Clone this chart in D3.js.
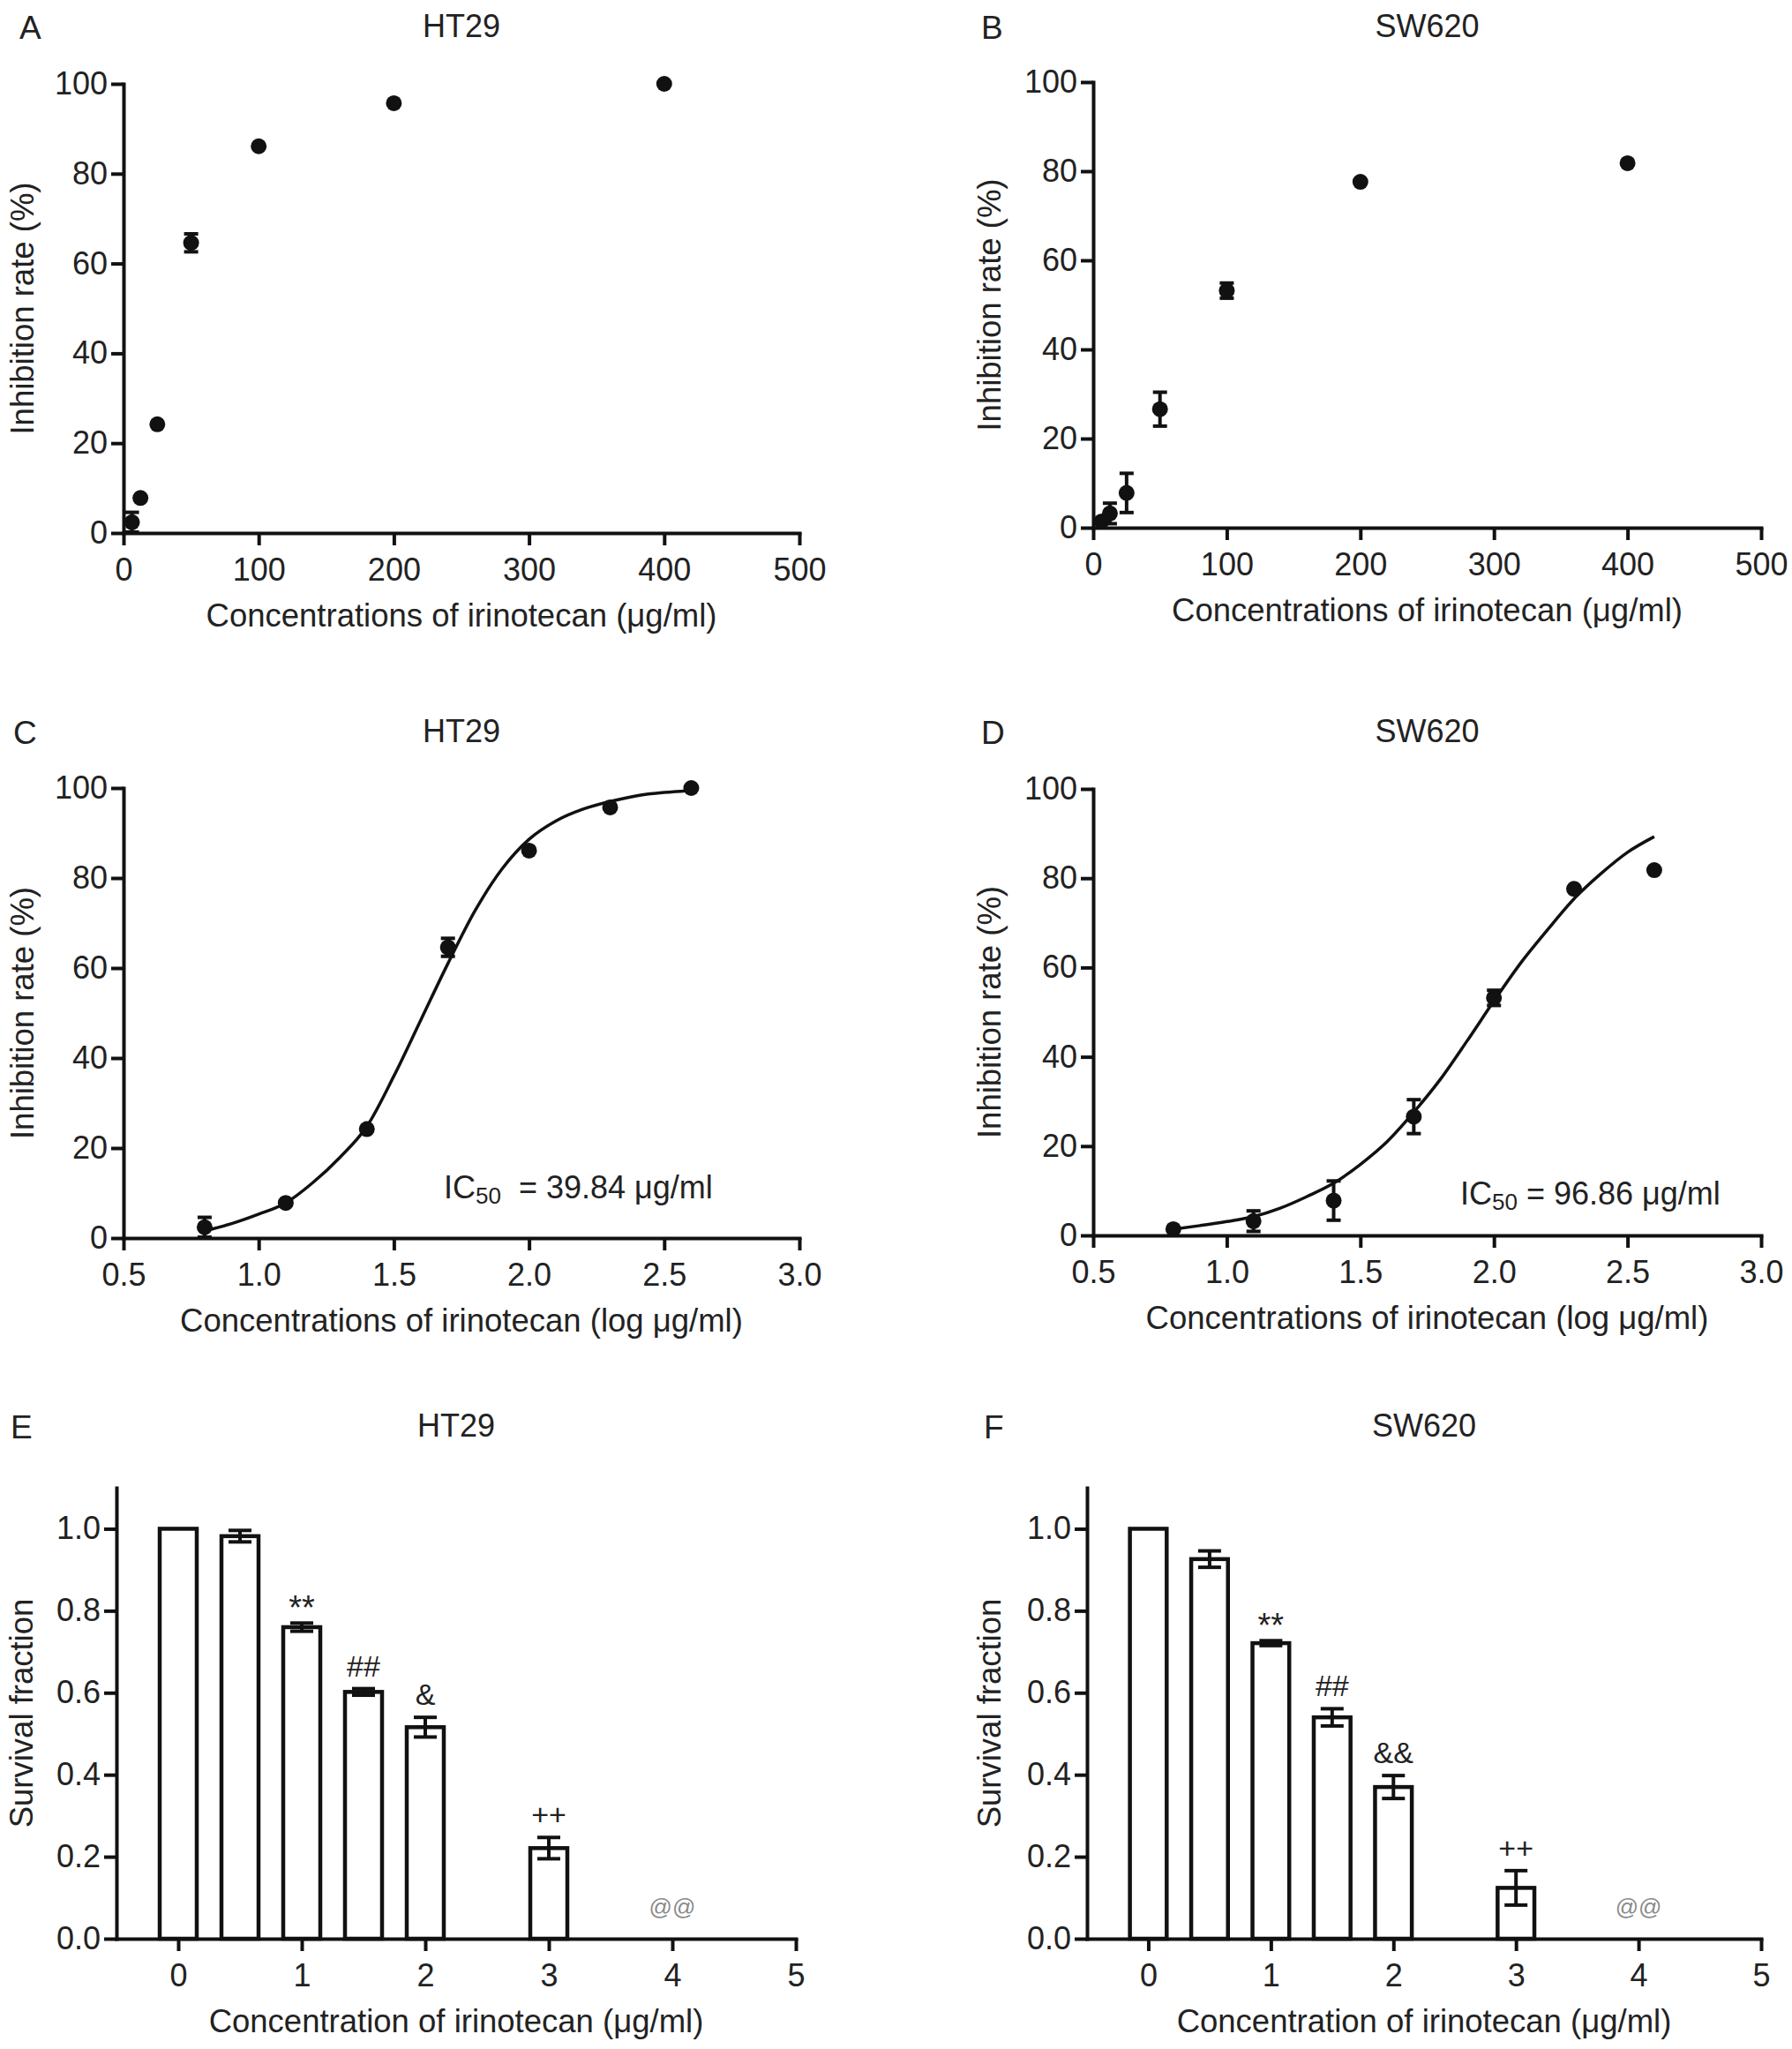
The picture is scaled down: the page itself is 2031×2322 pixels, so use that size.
<!DOCTYPE html>
<html>
<head>
<meta charset="utf-8">
<script src="https://cdn.jsdelivr.net/npm/d3@7"></script>
<style>
  body { margin: 0; background: #fff; }
  text { font-family: "Liberation Sans", Arial, sans-serif; fill: #222; }
</style>
</head>
<body>
<svg id="fig" width="2031" height="2322"></svg>
<script>
// doses used in panels A/B (µg/ml) and their log10 values used in C/D
var doses = [6.25, 12.5, 25, 50, 100, 200, 400];
var logDoses = [0.8, 1.1, 1.4, 1.7, 2.0, 2.3, 2.6];

// inhibition rate (%) and error (SD)
var ht29Inhib = [2.4, 7.8, 24.2, 64.6, 86.1, 95.7, 100];
var ht29Err = [2.2, 0, 0, 2.0, 0, 0, 0];
var sw620Inhib = [1.4, 3.2, 7.8, 26.6, 53.2, 77.6, 81.8];
var sw620Err = [0, 2.3, 4.4, 3.8, 1.7, 0, 0];

// fitted dose-response curves
var curveLogX = [0.8, 0.9, 1.0, 1.1, 1.2, 1.3, 1.4, 1.5, 1.6, 1.7, 1.8, 1.9, 2.0, 2.1, 2.2, 2.3, 2.4, 2.5, 2.6];
var ht29Curve = [1.6, 3.2, 5.3, 7.8, 12.3, 17.9, 24.8, 36, 48.5, 61, 72.7, 82, 88.6, 92.7, 95.3, 97, 98.3, 99, 99.4];
var sw620Curve = [1.4, 2.2, 3.1, 4.2, 6.1, 8.7, 11.7, 15.9, 21, 27.6, 35, 43.6, 52.5, 61, 68.4, 75.4, 81, 85.8, 89.3];

// survival fraction (E/F)
var survDoses = [0, 0.5, 1, 1.5, 2, 3, 4];
var ht29Surv = [1.0, 0.982, 0.76, 0.602, 0.516, 0.221, 0];
var ht29SurvErr = [0, 0.014, 0.01, 0.008, 0.024, 0.026, 0];
var ht29Marks = ["", "", "**", "##", "&", "++", "@@"];
var sw620Surv = [1.0, 0.926, 0.721, 0.54, 0.37, 0.124, 0];
var sw620SurvErr = [0, 0.02, 0.006, 0.021, 0.028, 0.042, 0];
var sw620Marks = ["", "", "**", "##", "&&", "++", "@@"];

// tick values
var doseTicks = [0, 100, 200, 300, 400, 500];
var logTicks = [0.5, 1.0, 1.5, 2.0, 2.5, 3.0];
var pctTicks = [0, 20, 40, 60, 80, 100];
var survXTicks = [0, 1, 2, 3, 4, 5];
var survYTicks = [0, 0.2, 0.4, 0.6, 0.8, 1.0];

var svg = d3.select("#fig");
var INK = "#111";

function styleAxis(g) {
  g.attr("font-size", 36).attr("font-family", null);
  g.select(".domain").attr("stroke", INK).attr("stroke-width", 4).attr("stroke-linecap", "square");
  g.selectAll(".tick line").attr("stroke", INK).attr("stroke-width", 4);
  g.selectAll(".tick text").attr("fill", "#222");
}

function frame(p, x, y) {
  svg.append("g")
    .attr("transform", "translate(0," + p.bottom + ")")
    .call(d3.axisBottom(x).tickValues(p.xTicks).tickFormat(p.xFmt)
      .tickSize(14).tickSizeOuter(0).tickPadding(14))
    .call(styleAxis);
  svg.append("g")
    .attr("transform", "translate(" + p.left + ",0)")
    .call(d3.axisLeft(y).tickValues(p.yTicks).tickFormat(p.yFmt)
      .tickSize(14).tickSizeOuter(0).tickPadding(4))
    .call(styleAxis);

  // panel letter and title
  svg.append("text").attr("x", p.letterX).attr("y", p.titleY + 2)
    .attr("font-size", 37).text(p.letter);
  svg.append("text").attr("x", (p.left + p.right) / 2).attr("y", p.titleY)
    .attr("text-anchor", "middle").attr("font-size", 36).text(p.title);

  // axis titles
  svg.append("text").attr("x", (p.left + p.right) / 2).attr("y", p.bottom + 106)
    .attr("text-anchor", "middle").attr("font-size", 36.5).text(p.xLabel);
  var yMid = (y.range()[0] + y.range()[1]) / 2;
  svg.append("text")
    .attr("transform", "translate(" + (p.left - p.yLabelOff) + "," + yMid + ") rotate(-90)")
    .attr("text-anchor", "middle").attr("font-size", 36.5).text(p.yLabel);
}

function errorBars(g, x, y, xs, vals, errs, half) {
  var d = xs.map(function (v, i) { return { x: v, v: vals[i], e: errs[i] }; })
    .filter(function (o) { return o.e > 0; });
  var eb = g.selectAll("g.err").data(d).enter().append("g")
    .attr("stroke", INK).attr("stroke-width", 4);
  eb.append("line")
    .attr("x1", function (o) { return x(o.x); }).attr("x2", function (o) { return x(o.x); })
    .attr("y1", function (o) { return y(o.v - o.e); }).attr("y2", function (o) { return y(o.v + o.e); });
  eb.append("line")
    .attr("x1", function (o) { return x(o.x) - half; }).attr("x2", function (o) { return x(o.x) + half; })
    .attr("y1", function (o) { return y(o.v + o.e); }).attr("y2", function (o) { return y(o.v + o.e); });
  eb.append("line")
    .attr("x1", function (o) { return x(o.x) - half; }).attr("x2", function (o) { return x(o.x) + half; })
    .attr("y1", function (o) { return y(o.v - o.e); }).attr("y2", function (o) { return y(o.v - o.e); });
}

function drawScatter(p) {
  var x = d3.scaleLinear().domain(p.xDomain).range([p.left, p.right]);
  var y = d3.scaleLinear().domain([0, 100]).range([p.bottom, p.top]);
  frame(p, x, y);

  var g = svg.append("g");
  if (p.curveY) {
    var line = d3.line()
      .x(function (d) { return x(d[0]); })
      .y(function (d) { return y(d[1]); })
      .curve(d3.curveMonotoneX);
    g.append("path")
      .datum(curveLogX.map(function (v, i) { return [v, p.curveY[i]]; }))
      .attr("d", line).attr("fill", "none").attr("stroke", INK).attr("stroke-width", 3.5);
  }
  errorBars(g, x, y, p.xs, p.ys, p.errs, 8);
  g.selectAll("circle").data(p.xs).enter().append("circle")
    .attr("cx", function (d) { return x(d); })
    .attr("cy", function (d, i) { return y(p.ys[i]); })
    .attr("r", 9).attr("fill", INK);

  if (p.ic50) {
    var t = svg.append("text").attr("x", p.ic50.x).attr("y", p.ic50.y)
      .attr("font-size", 36).attr("xml:space", "preserve");
    t.append("tspan").text("IC");
    t.append("tspan").attr("font-size", 26).attr("dy", 6).text("50");
    t.append("tspan").attr("dy", -6).text(p.ic50.text);
  }
}

function drawBars(p) {
  var x = d3.scaleLinear().domain([-0.5, 5]).range([p.left, p.right]);
  var y = d3.scaleLinear().domain([0, 1.1]).range([p.bottom, p.top]);
  frame(p, x, y);

  var bw = x(0.3) - x(0);
  var g = svg.append("g");
  g.selectAll("rect").data(survDoses.filter(function (d, i) { return p.vals[i] > 0; }))
    .enter().append("rect")
    .attr("x", function (d) { return x(d) - bw / 2; })
    .attr("width", bw)
    .attr("y", function (d) { return y(p.vals[survDoses.indexOf(d)]); })
    .attr("height", function (d) { return p.bottom - y(p.vals[survDoses.indexOf(d)]); })
    .attr("fill", "#fff").attr("stroke", INK).attr("stroke-width", 4.5);
  errorBars(g, x, y, survDoses, p.vals, p.errs, 13);

  g.selectAll("text.mark").data(survDoses).enter().append("text")
    .attr("class", "mark")
    .attr("x", function (d) { return x(d); })
    .attr("y", function (d, i) {
      var m = p.marks[i];
      var off = m === "@@" ? 27 : (m === "**" ? 4 : 14);
      return y(p.vals[i] + p.errs[i]) - off;
    })
    .attr("text-anchor", "middle")
    .attr("font-size", function (d, i) {
      var m = p.marks[i];
      return m === "@@" ? 26 : (m === "**" ? 38 : 34);
    })
    .style("fill", function (d, i) { return p.marks[i] === "@@" ? "#8a8a8a" : "#222"; })
    .text(function (d, i) { return p.marks[i]; });
}

var fmt0 = d3.format("d"), fmt1 = d3.format(".1f");

drawScatter({ letter: "A", letterX: 22, title: "HT29", titleY: 42,
  left: 140, right: 906, top: 95, bottom: 604, yLabelOff: 102,
  xDomain: [0, 500], xTicks: doseTicks, xFmt: fmt0, yTicks: pctTicks, yFmt: fmt0,
  xLabel: "Concentrations of irinotecan (μg/ml)", yLabel: "Inhibition rate (%)",
  xs: doses, ys: ht29Inhib, errs: ht29Err });

drawScatter({ letter: "B", letterX: 1112, title: "SW620", titleY: 42,
  left: 1239, right: 1996, top: 93, bottom: 598, yLabelOff: 105,
  xDomain: [0, 500], xTicks: doseTicks, xFmt: fmt0, yTicks: pctTicks, yFmt: fmt0,
  xLabel: "Concentrations of irinotecan (μg/ml)", yLabel: "Inhibition rate (%)",
  xs: doses, ys: sw620Inhib, errs: sw620Err });

drawScatter({ letter: "C", letterX: 15, title: "HT29", titleY: 841,
  left: 140, right: 906, top: 893, bottom: 1403, yLabelOff: 102,
  xDomain: [0.5, 3.0], xTicks: logTicks, xFmt: fmt1, yTicks: pctTicks, yFmt: fmt0,
  xLabel: "Concentrations of irinotecan (log μg/ml)", yLabel: "Inhibition rate (%)",
  xs: logDoses, ys: ht29Inhib, errs: ht29Err, curveY: ht29Curve,
  ic50: { x: 503, y: 1358, text: "  = 39.84 μg/ml" } });

drawScatter({ letter: "D", letterX: 1112, title: "SW620", titleY: 841,
  left: 1239, right: 1996, top: 894, bottom: 1400, yLabelOff: 105,
  xDomain: [0.5, 3.0], xTicks: logTicks, xFmt: fmt1, yTicks: pctTicks, yFmt: fmt0,
  xLabel: "Concentrations of irinotecan (log μg/ml)", yLabel: "Inhibition rate (%)",
  xs: logDoses, ys: sw620Inhib, errs: sw620Err, curveY: sw620Curve,
  ic50: { x: 1655, y: 1365, text: " = 96.86 μg/ml" } });

drawBars({ letter: "E", letterX: 12, title: "HT29", titleY: 1628,
  left: 132, right: 902, top: 1686, bottom: 2197, yLabelOff: 95,
  xTicks: survXTicks, xFmt: fmt0, yTicks: survYTicks, yFmt: fmt1,
  xLabel: "Concentration of irinotecan (μg/ml)", yLabel: "Survival fraction",
  vals: ht29Surv, errs: ht29SurvErr, marks: ht29Marks });

drawBars({ letter: "F", letterX: 1115, title: "SW620", titleY: 1628,
  left: 1232, right: 1996, top: 1686, bottom: 2197, yLabelOff: 98,
  xTicks: survXTicks, xFmt: fmt0, yTicks: survYTicks, yFmt: fmt1,
  xLabel: "Concentration of irinotecan (μg/ml)", yLabel: "Survival fraction",
  vals: sw620Surv, errs: sw620SurvErr, marks: sw620Marks });
</script>
</body>
</html>
